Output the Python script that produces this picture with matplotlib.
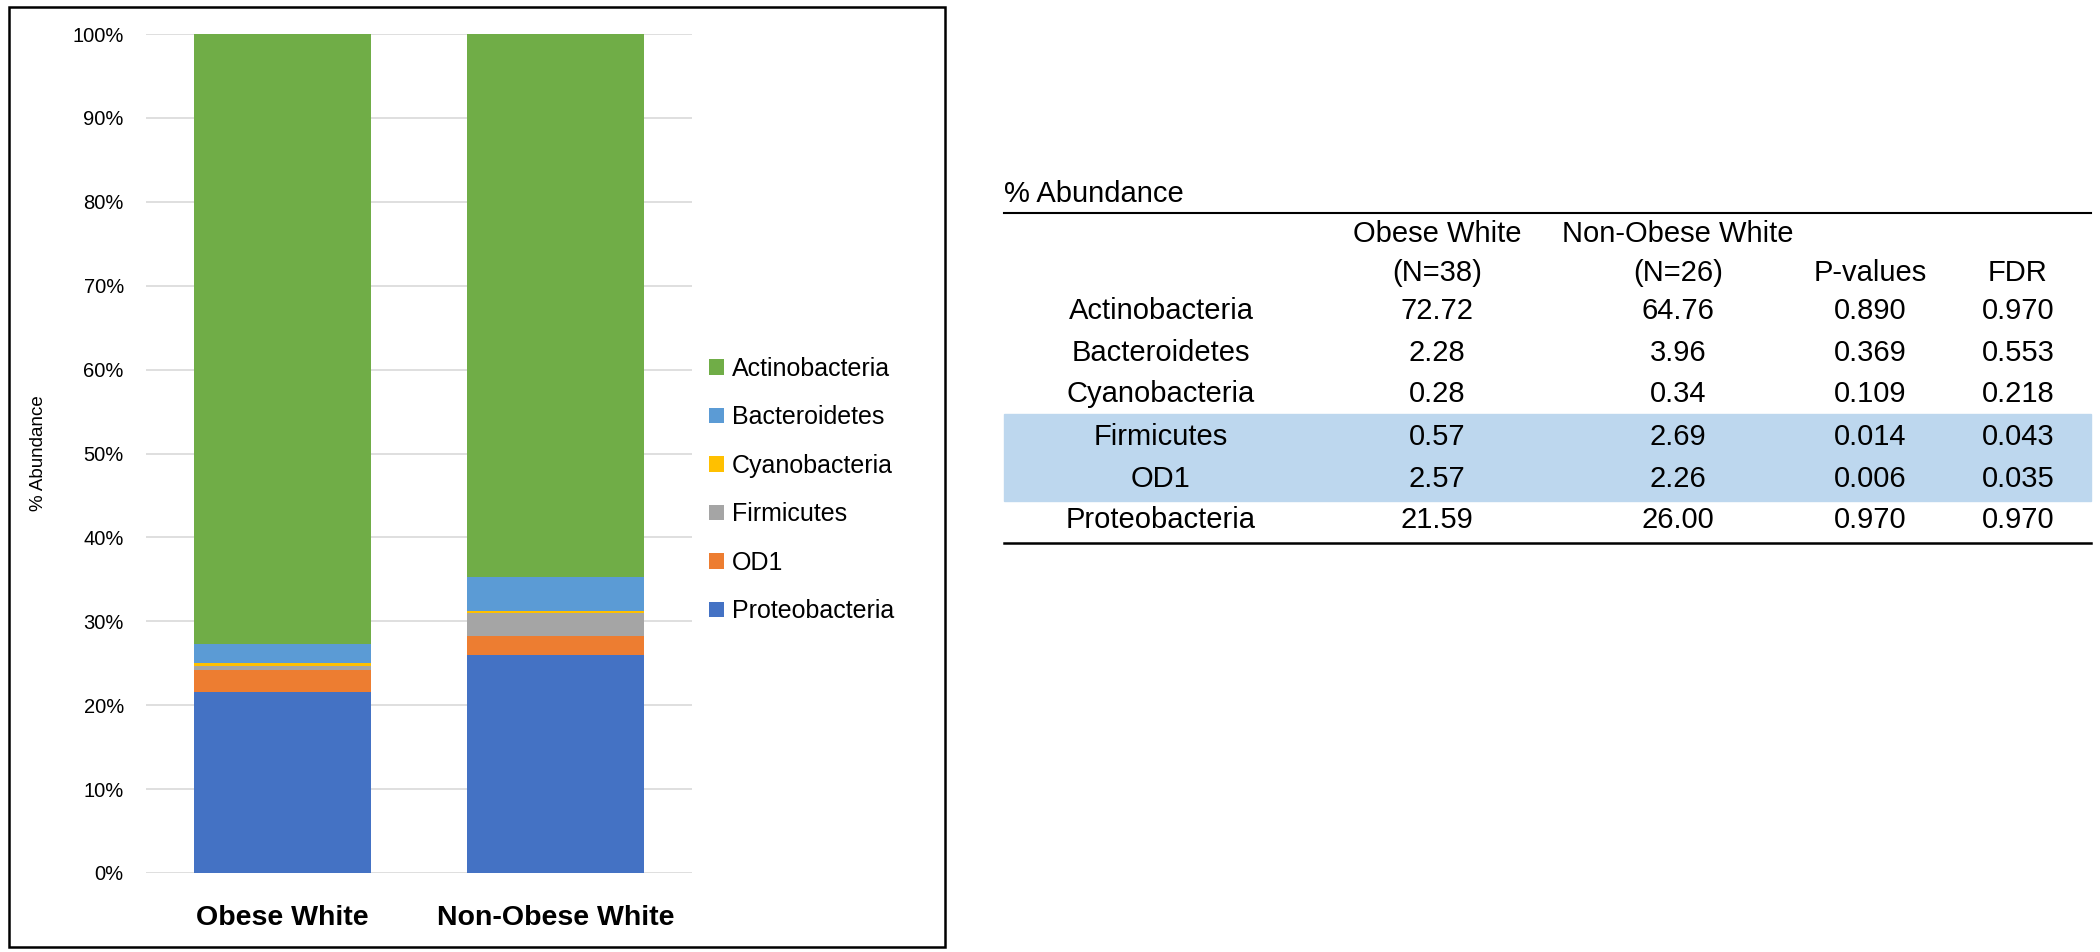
import numpy as np
import matplotlib
matplotlib.use('Agg')
import matplotlib.pyplot as plt
from matplotlib.patches import Rectangle

plt.rcParams['font.family'] = ['Liberation Sans', 'DejaVu Sans']

# data (table order, alphabetical)
phyla = ['Actinobacteria', 'Bacteroidetes', 'Cyanobacteria', 'Firmicutes', 'OD1', 'Proteobacteria']
obese = [72.72, 2.28, 0.28, 0.57, 2.57, 21.59]
non_obese = [64.76, 3.96, 0.34, 2.69, 2.26, 26.00]
p_values = [0.890, 0.369, 0.109, 0.014, 0.006, 0.970]
fdr = [0.970, 0.553, 0.218, 0.043, 0.035, 0.970]
groups = ['Obese White', 'Non-Obese White']
col_heads = [('', ''), ('Obese White', '(N=38)'), ('Non-Obese White', '(N=26)'), ('', 'P-values'), ('', 'FDR')]

colors = {'Actinobacteria': '#70AD47', 'Bacteroidetes': '#5B9BD5', 'Cyanobacteria': '#FFC000',
          'Firmicutes': '#A5A5A5', 'OD1': '#ED7D31', 'Proteobacteria': '#4472C4'}

W, H = 2100, 952
fig = plt.figure(figsize=(W / 100, H / 100), dpi=100)

# ---- stacked 100% bar chart
ax = fig.add_axes([146 / W, 1 - 873 / H, 546 / W, (873 - 34) / H])
vals = np.array([obese, non_obese]).T
pct = vals / vals.sum(axis=0) * 100
x = np.arange(len(groups))
bottom = np.zeros(len(groups))
handles = []
for i in reversed(range(len(phyla))):
    b = ax.bar(x, pct[i], 0.65, bottom=bottom, color=colors[phyla[i]], label=phyla[i], zorder=3)
    handles.append(b)
    bottom += pct[i]

ax.set_xlim(-0.5, 1.5)
ax.set_ylim(0, 100)
ax.set_yticks(np.arange(0, 101, 10))
ax.set_yticklabels([f'{t}%' for t in range(0, 101, 10)], fontsize=14.5)
ax.set_xticks(x)
ax.set_xticklabels(groups, fontsize=20.5, fontweight='bold')
ax.tick_params(axis='y', length=0, pad=16)
ax.tick_params(axis='x', length=0, pad=23)
ax.grid(axis='y', color='#D9D9D9', lw=1.2, zorder=0)
for s in ax.spines.values():
    s.set_visible(False)
ax.set_ylabel('% Abundance', fontsize=13.5, labelpad=18)

leg = fig.legend(handles[::-1], phyla, loc='center left', bbox_to_anchor=(709 / W, 1 - 490 / H),
                 frameon=False, fontsize=18, handlelength=0.6, handleheight=0.6,
                 handletextpad=0.3, labelspacing=0.98, borderpad=0, borderaxespad=0)

# ---- overlay in pixel coords for frame and table
ov = fig.add_axes([0, 0, 1, 1], zorder=5)
ov.set_xlim(0, W)
ov.set_ylim(H, 0)
ov.axis('off')
ov.add_patch(Rectangle((9, 7), 936, 940, fill=False, ec='black', lw=1.8))

tl, tr = 1004, 2091
col_x = [1161, 1437, 1678, 1870, 2018]
row_y = [311, 353, 394, 437, 479, 520]
fs = 21

ov.text(tl, 194, '% Abundance', fontsize=fs, ha='left', va='center')
ov.plot([tl, tr], [213, 213], color='black', lw=1.5)
ov.plot([tl, tr], [543, 543], color='black', lw=1.8)

# highlight rows with FDR < 0.05
sig = [i for i, f in enumerate(fdr) if f < 0.05]
if sig:
    y0 = row_y[sig[0]] - 23
    y1 = row_y[sig[-1]] + 22
    ov.add_patch(Rectangle((tl, y0), tr - tl, y1 - y0, color='#BDD7EE', zorder=0))

for cx, (h1, h2) in zip(col_x, col_heads):
    ov.text(cx, 234, h1, fontsize=fs, ha='center', va='center')
    ov.text(cx, 273, h2, fontsize=fs, ha='center', va='center')

for i, name in enumerate(phyla):
    row = [name, f'{obese[i]:.2f}', f'{non_obese[i]:.2f}', f'{p_values[i]:.3f}', f'{fdr[i]:.3f}']
    for cx, s in zip(col_x, row):
        ov.text(cx, row_y[i], s, fontsize=fs, ha='center', va='center')

fig.savefig('out.png', dpi=100)
